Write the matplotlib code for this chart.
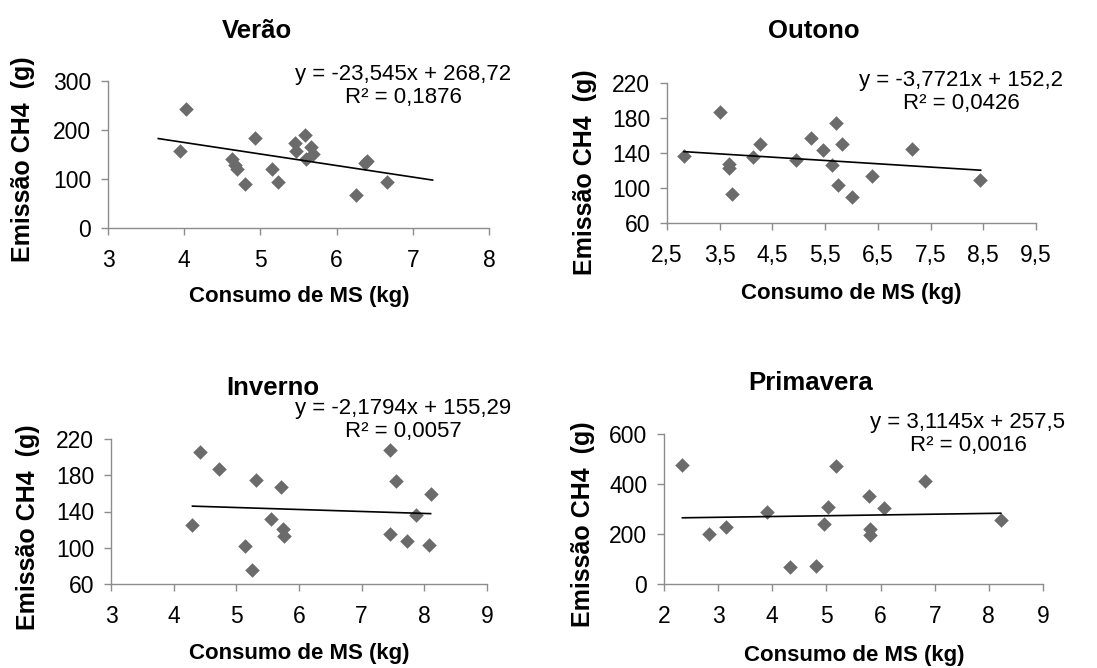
import matplotlib
matplotlib.use("Agg")
import matplotlib.pyplot as plt

plt.rcParams["font.family"] = ["Liberation Sans", "DejaVu Sans"]

# --- data ---
verao_x = [3.95, 4.02, 4.63, 4.67, 4.69, 4.80, 4.93, 5.15, 5.23, 5.45,
           5.47, 5.58, 5.60, 5.67, 5.69, 6.25, 6.37, 6.40, 6.66]
verao_y = [157, 243, 140, 128, 120, 89, 183, 120, 94, 174,
           157, 190, 140, 166, 152, 68, 132, 137, 94]
verao_coef = (-23.545, 268.72)
verao_line_x = [3.66, 7.26]
verao_xticks = [3, 4, 5, 6, 7, 8]
verao_yticks = [0, 100, 200, 300]
verao_eq = "y = -23,545x + 268,72\nR² = 0,1876"

outono_x = [2.82, 3.51, 3.67, 3.68, 3.73, 4.14, 4.27, 4.95, 5.24, 5.45,
            5.63, 5.71, 5.74, 5.82, 6.01, 6.38, 7.14, 8.43]
outono_y = [137, 187, 127, 123, 93, 136, 150, 132, 157, 143,
            126, 174, 104, 150, 90, 114, 145, 109]
outono_coef = (-3.7721, 152.2)
outono_line_x = [2.82, 8.45]
outono_xticks = [2.5, 3.5, 4.5, 5.5, 6.5, 7.5, 8.5, 9.5]
outono_xticklabels = ["2,5", "3,5", "4,5", "5,5", "6,5", "7,5", "8,5", "9,5"]
outono_yticks = [60, 100, 140, 180, 220]
outono_eq = "y = -3,7721x + 152,2\nR² = 0,0426"

inverno_x = [4.30, 4.42, 4.72, 5.14, 5.25, 5.31, 5.56, 5.71, 5.75, 5.76,
             7.45, 7.46, 7.54, 7.72, 7.86, 8.07, 8.10]
inverno_y = [125, 206, 187, 102, 76, 175, 132, 167, 121, 113,
             208, 115, 174, 108, 136, 103, 159]
inverno_coef = (-2.1794, 155.29)
inverno_line_x = [4.30, 8.10]
inverno_xticks = [3, 4, 5, 6, 7, 8, 9]
inverno_yticks = [60, 100, 140, 180, 220]
inverno_eq = "y = -2,1794x + 155,29\nR² = 0,0057"

primavera_x = [2.34, 2.83, 3.14, 3.91, 4.33, 4.80, 4.96, 5.03, 5.17, 5.79,
               5.80, 5.80, 6.06, 6.82, 8.22]
primavera_y = [475, 201, 227, 288, 67, 71, 241, 308, 471, 353,
               221, 197, 304, 411, 257]
primavera_coef = (3.1145, 257.5)
primavera_line_x = [2.34, 8.22]
primavera_xticks = [2, 3, 4, 5, 6, 7, 8, 9]
primavera_yticks = [0, 200, 400, 600]
primavera_eq = "y = 3,1145x + 257,5\nR² = 0,0016"

AXIS_GREY = "#8c8c8c"
MARKER_GREY = "#6b6b6b"
TICK_SIZE = 16.5
EQ_SIZE = 16
LABEL_SIZE = 16
YLABEL_SIZE = 18
TITLE_SIZE = 18.5


def draw_panel(fig, rect, xs, ys, coef, line_x, xticks, yticks, xticklabels=None):
    ax = fig.add_axes(rect)
    slope, intercept = coef
    line_y = [slope * x + intercept for x in line_x]
    ax.scatter(xs, ys, marker="D", s=55, color=MARKER_GREY, linewidths=0, zorder=2)
    ax.plot(line_x, line_y, color="black", linewidth=1.2, zorder=3)

    ax.set_xlim(xticks[0], xticks[-1])
    ax.set_ylim(yticks[0], yticks[-1])
    ax.set_xticks(xticks)
    ax.set_yticks(yticks)
    if xticklabels is not None:
        ax.set_xticklabels(xticklabels)

    for side in ("top", "right"):
        ax.spines[side].set_visible(False)
    for side in ("left", "bottom"):
        ax.spines[side].set_color(AXIS_GREY)
        ax.spines[side].set_linewidth(1.0)
    ax.tick_params(axis="both", direction="out", length=5, width=1.0,
                   color=AXIS_GREY, labelsize=TICK_SIZE, labelcolor="black")
    ax.tick_params(axis="x", pad=10)
    ax.tick_params(axis="y", pad=7)
    for art in ax.collections + ax.lines:
        art.set_clip_on(False)
    return ax


W, H = 1097, 668
fig = plt.figure(figsize=(W / 100, H / 100), dpi=100)


def fx(px):
    return px / W


def fy(py):
    return 1 - py / H


def rect(left, right, top, bottom):
    return [fx(left), fy(bottom), fx(right) - fx(left), fy(top) - fy(bottom)]


panels = [
    dict(rect=rect(108, 489, 81, 228), xs=verao_x, ys=verao_y, coef=verao_coef,
         line_x=verao_line_x, xticks=verao_xticks, yticks=verao_yticks,
         title="Verão", title_xy=(257, 31), eq=verao_eq, eq_xy=(403, 86),
         xlabel_xy=(299, 297), ylabel_xy=(23, 159)),
    dict(rect=rect(667, 1036, 83, 223), xs=outono_x, ys=outono_y, coef=outono_coef,
         line_x=outono_line_x, xticks=outono_xticks, yticks=outono_yticks,
         xticklabels=outono_xticklabels,
         title="Outono", title_xy=(814, 31), eq=outono_eq, eq_xy=(961, 92),
         xlabel_xy=(851, 293), ylabel_xy=(585, 172)),
    dict(rect=rect(111, 487, 439, 584), xs=inverno_x, ys=inverno_y, coef=inverno_coef,
         line_x=inverno_line_x, xticks=inverno_xticks, yticks=inverno_yticks,
         title="Inverno", title_xy=(273, 388), eq=inverno_eq, eq_xy=(403, 420),
         xlabel_xy=(299, 653), ylabel_xy=(28, 527)),
    dict(rect=rect(664, 1043, 434, 584), xs=primavera_x, ys=primavera_y,
         coef=primavera_coef, line_x=primavera_line_x, xticks=primavera_xticks,
         yticks=primavera_yticks,
         title="Primavera", title_xy=(811, 383), eq=primavera_eq, eq_xy=(968, 434),
         xlabel_xy=(854, 655), ylabel_xy=(583, 524)),
]

for p in panels:
    draw_panel(fig, p["rect"], p["xs"], p["ys"], p["coef"], p["line_x"],
               p["xticks"], p["yticks"], p.get("xticklabels"))
    tx, ty = p["title_xy"]
    fig.text(fx(tx), fy(ty), p["title"], ha="center", va="center",
             fontsize=TITLE_SIZE, fontweight="bold")
    ex, ey = p["eq_xy"]
    fig.text(fx(ex), fy(ey), p["eq"], ha="center", va="center",
             multialignment="center", fontsize=EQ_SIZE, linespacing=1.15)
    lx, ly = p["xlabel_xy"]
    fig.text(fx(lx), fy(ly), "Consumo de MS (kg)", ha="center", va="center",
             fontsize=LABEL_SIZE, fontweight="bold")
    yx, yy = p["ylabel_xy"]
    fig.text(fx(yx), fy(yy), "Emissão CH4  (g)", ha="center", va="center",
             rotation=90, fontsize=YLABEL_SIZE, fontweight="bold")

fig.savefig("out.png", dpi=100)
